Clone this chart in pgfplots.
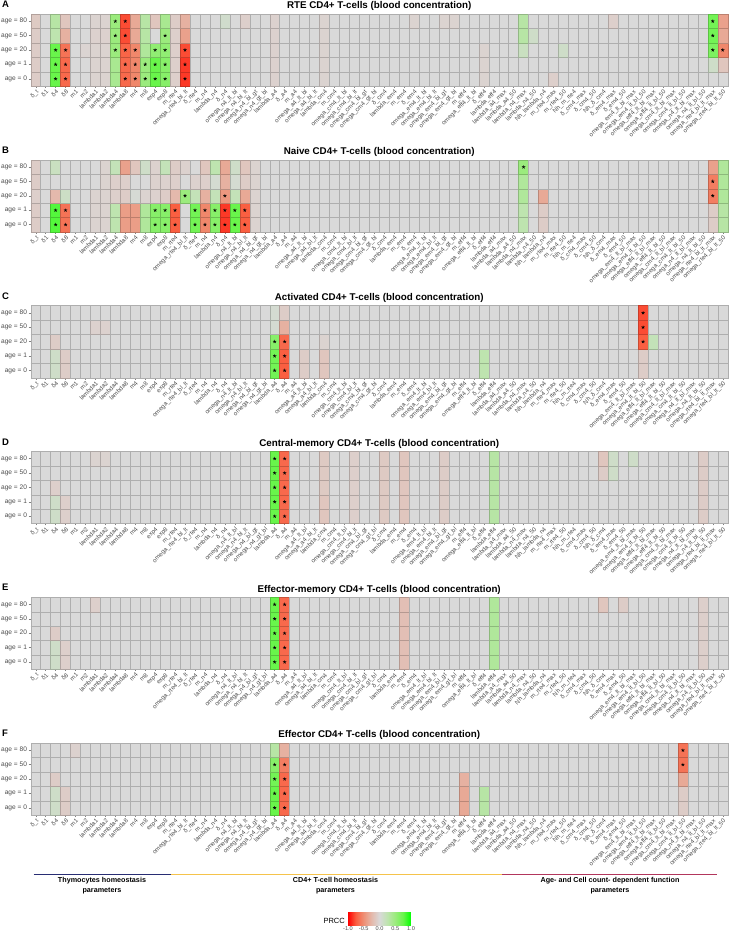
\documentclass[border=0pt]{standalone}
\usepackage{fontspec}
\setmainfont{Liberation Sans}
\usepackage{pgfplots}
\usepackage{pgfplotstable}
\pgfplotsset{compat=1.18}

\definecolor{grpA}{RGB}{40,45,115}
\definecolor{grpB}{RGB}{245,195,75}
\definecolor{grpC}{RGB}{178,54,92}

% one heat-map tile, 10 x 14.5 pt
\pgfdeclareplotmark{cell}{%
  \pgfpathrectangle{\pgfpoint{-5.05pt}{-7.3pt}}{\pgfpoint{10.1pt}{14.6pt}}%
  \pgfusepathqfillstroke}

\pgfplotsset{
  % red - grey - green diverging scale (perceptual steps)
  colormap={prcc}{rgb255(0cm)=(255,0,0); rgb255(1cm)=(250,95,65); rgb255(2cm)=(238,145,118);
    rgb255(3cm)=(228,185,172); rgb255(4cm)=(217,217,217); rgb255(5cm)=(190,228,175);
    rgb255(6cm)=(155,235,125); rgb255(7cm)=(105,245,75); rgb255(8cm)=(0,255,0)},
  paramlabels/.style={xticklabels={
    δ\_t, δ1, δ4, δ8, m1, m2, lambda1, lambda2, lambda4, lambda8,
    m4, m8, exp4, exp8, m\_rte4, omega\_rte4\_bl\_lt, δ\_rte4, m\_n4, lambda\_n4, δ\_n4,
    omega\_n4\_lt\_bl, omega\_n4\_bl\_lt, omega\_n4\_bl\_gt, omega\_n4\_gt\_bl, lambda\_a4, δ\_a4, m\_a4, omega\_a4\_lt\_bl, omega\_a4\_bl\_lt, lambda\_cm4,
    m\_cm4, omega\_cm4\_lt\_bl, omega\_cm4\_bl\_lt, omega\_cm4\_bl\_gt, omega\_cm4\_gt\_bl, δ\_cm4, lambda\_em4, m\_em4, δ\_em4, omega\_em4\_lt\_bl,
    omega\_em4\_bl\_lt, omega\_em4\_bl\_gt, omega\_em4\_gt\_bl, m\_eff4, omega\_eff4\_lt\_bl, δ\_eff4, lambda\_eff4, lambda\_a4\_max, lambda\_a4\_50, lambda\_n4\_max,
    lambda\_n4\_50, Nh\_lambda\_n4, m\_rte4\_max, m\_rte4\_50, Nh\_m\_rte4, δ\_cm4\_max, δ\_cm4\_50, Nh\_δ\_cm4, δ\_em4\_max, δ\_em4\_50,
    omega\_em4\_lt\_bl\_max, omega\_em4\_lt\_bl\_50, omega\_eff4\_lt\_bl\_max, omega\_eff4\_lt\_bl\_50, omega\_cm4\_lt\_bl\_max, omega\_cm4\_lt\_bl\_50, omega\_n4\_lt\_bl\_max, omega\_n4\_lt\_bl\_50, omega\_rte4\_bl\_lt\_max, omega\_rte4\_bl\_lt\_50}},
  heat/.style={
    scale only axis, width=697pt, height=72pt,
    xmin=0.5, xmax=70.5, ymin=-0.5, ymax=4.5, enlargelimits=false,
    xtick={1,...,70}, ytick={0,...,4}, paramlabels,
    yticklabels={age = 0, age = 1, age = 20, age = 50, age = 80},
    minor x tick num=1, minor y tick num=1,
    grid=minor, minor grid style={draw=black!45, line width=0.35pt},
    minor tick length=0pt, major tick length=2pt, tick align=outside, tick pos=left,
    tick style={draw=black!50, line width=0.35pt},
    axis line style={draw=black!50, line width=0.4pt},
    axis on top,
    colormap name=prcc, point meta min=-1, point meta max=1,
    xticklabel style={rotate=45, anchor=north east, inner sep=0.8pt,
      font=\fontsize{6.1}{6.5}\selectfont, text=black!70},
    yticklabel style={font=\fontsize{6.6}{7}\selectfont, text=black!70, inner sep=1.5pt},
    every axis title/.style={at={(0.5,1)}, anchor=base, yshift=5.2pt,
      font=\bfseries\fontsize{9.8}{10}\selectfont},
  },
  heatcell/.style={scatter, only marks, mark=cell, point meta=explicit, line width=0.2pt},
  sig/.style={only marks, mark=star, mark size=1.7pt, black, line width=0.6pt},
}

% draws the five age rows of one panel, with stars on the significant tiles
\newcommand{\heatmap}[1]{%
  \addplot[heatcell] table[x=i, y expr=0, meta=a0] {#1};
  \addplot[heatcell] table[x=i, y expr=1, meta=a1] {#1};
  \addplot[heatcell] table[x=i, y expr=2, meta=a20] {#1};
  \addplot[heatcell] table[x=i, y expr=3, meta=a50] {#1};
  \addplot[heatcell] table[x=i, y expr=4, meta=a80] {#1};
  \addplot[sig] table[x=i, y expr=0, restrict expr to domain={abs(\thisrow{a0})}{0.45:2}] {#1};
  \addplot[sig] table[x=i, y expr=1, restrict expr to domain={abs(\thisrow{a1})}{0.45:2}] {#1};
  \addplot[sig] table[x=i, y expr=2, restrict expr to domain={abs(\thisrow{a20})}{0.45:2}] {#1};
  \addplot[sig] table[x=i, y expr=3, restrict expr to domain={abs(\thisrow{a50})}{0.45:2}] {#1};
  \addplot[sig] table[x=i, y expr=4, restrict expr to domain={abs(\thisrow{a80})}{0.45:2}] {#1};
}

% PRCC per parameter (i) and age (0, 1, 20, 50, 80 years)
\pgfplotstableread{
i a0 a1 a20 a50 a80
1 -0.10 -0.10 -0.10 -0.10 -0.12
2 0 0 0 0 0
3 0.75 0.75 0.75 0.25 0.30
4 -0.70 -0.70 -0.65 -0.30 -0.15
5 0 0 0 0 0
6 0 0 -0.04 0 0
7 -0.05 -0.05 -0.05 -0.06 -0.05
8 -0.05 -0.05 -0.05 -0.06 -0.05
9 0.40 0.40 0.50 0.50 0.50
10 -0.70 -0.70 -0.72 -0.80 -0.80
11 -0.55 -0.55 -0.55 -0.35 -0.35
12 0.50 0.50 0.35 0.30 0.30
13 0.75 0.75 0.55 0 -0.15
14 0.60 0.60 0.55 0.50 0.40
15 -0.08 -0.08 -0.08 -0.08 -0.10
16 -0.85 -0.85 -0.80 -0.40 -0.30
17 0 0 0 0 0
18 0 0 0 0 0
19 0 0 0 0 0
20 0 0 0 0 0.08
21 0 0 0 0 0
22 0 0 0 0 -0.08
23 0 0 0 0 0
24 0 0 0 0 0
25 -0.06 -0.06 -0.06 -0.06 -0.06
26 0 0 0 0 0
27 0 0 0 0 0
28 0 0 0 0 0
29 0 0 0 0 0
30 -0.05 -0.05 -0.05 -0.05 -0.05
31 0 0 0 0 0
32 0 0 0 0 0
33 0 0 0 0 0
34 0 0 0 0 0
35 0 0 0 0 0
36 0 0 0 0 0
37 0 0 0 0 0
38 0 0 0 0 0
39 0 0 0 0 -0.05
40 0 0 0 0 0
41 0 0 0 0 0
42 0 0 0 0 -0.05
43 0 0 0 0 -0.05
44 0 0 0 0 0
45 0 0 0 0 0
46 -0.05 -0.05 -0.05 0 0
47 0 0 0 0 0
48 0 0 0 0 0
49 0 0 0 0 0
50 0 0 0.15 0.30 0.30
51 0 0 0 0.10 0
52 0 0 0 0 0
53 -0.08 0 0 0 0
54 0 0 0.10 0 0
55 0 0 0 0 0
56 0 0 0 0 0
57 0 0 0 0 0
58 0 0 0 0 0
59 0 0 0 0 -0.08
60 0 0 0 0 0
61 0 0 0 0 0
62 0 0 0 0 0
63 0 0 0 0 0
64 0 0 0 0 0
65 0 0 0 0 0
66 0 0 0 0 0
67 0 0 0 0 0
68 0 0 0 0 0
69 0 0.10 0.65 0.70 0.70
70 0 -0.15 -0.55 -0.35 -0.40
}\tabA

\pgfplotstableread{
i a0 a1 a20 a50 a80
1 -0.10 -0.10 -0.08 -0.10 -0.10
2 0 0 0 0 0
3 0.80 0.80 -0.25 0 0.15
4 -0.65 -0.65 0.12 0 0
5 0 0 0 0 0
6 0 0 0 0 0
7 -0.05 -0.05 -0.05 0 0
8 -0.05 -0.05 -0.05 -0.05 -0.05
9 0.25 0.25 -0.08 -0.08 0.20
10 -0.42 -0.42 -0.10 -0.08 -0.40
11 -0.42 -0.42 0.03 0 -0.15
12 0.35 0.35 -0.05 0 0.10
13 0.60 0.60 -0.06 -0.06 -0.06
14 0.60 0.60 -0.10 -0.06 0.20
15 -0.75 -0.75 -0.25 -0.08 -0.10
16 0 0 0.50 0 -0.06
17 0.70 0.70 0.20 -0.06 0
18 -0.55 -0.55 -0.30 -0.08 -0.15
19 0.60 0.60 0.20 0.05 0.25
20 -0.85 -0.85 -0.46 -0.30 -0.35
21 0.75 0.75 0.20 0.05 0.10
22 -0.75 -0.75 -0.35 -0.10 -0.15
23 -0.05 -0.05 -0.05 -0.05 -0.05
24 0 0 0 0 0
25 0 0 0 0 0
26 0 0 0 0 0
27 0 0 0 0 0
28 0 0 0 0 0
29 0 0 0 0 0
30 0 0 0 0 0
31 0 0 0 0 0
32 0 0 0 0 0
33 0 0 0 0 0
34 0 0 0 0 0
35 0 0 0 0 0
36 0 0 0 0 0
37 0 0 0 0 0
38 0 0 0 0 0
39 0 0 0 0 0
40 0 0 0 0 0
41 0 0 0 0 0
42 0 0 0 0 0
43 0 0 0 0 0
44 0 0 0 0 0
45 0 0 0 0 0
46 0 0 0 0 0
47 0 0 0 0 0
48 0 0 0 0 0
49 0 0 0 0 0
50 0.25 0.25 0.35 0.35 0.50
51 0 0 0 0 0
52 -0.10 -0.10 -0.35 0 0
53 0 0 0 0 0
54 0 0 0 0 0
55 0 0 0 0 0
56 0 0 0 0 0
57 0 0 0 0 0
58 0 0 0 0 0
59 0 0 0 0 0
60 0 0 0 0 0
61 0 0 0 0 0
62 0 0 0 0 0
63 0 0 0 0 0
64 0 0 0 0 0
65 0 0 0 0 0
66 0 0 0 0 0
67 0 0 0 0 0
68 0 0 0 0 0
69 -0.10 -0.10 -0.60 -0.60 -0.40
70 0.30 0.30 0.35 0.35 0.35
}\tabB

\pgfplotstableread{
i a0 a1 a20 a50 a80
1 0 0 0 0 0
2 0 0 0 0 0
3 0.10 0.10 -0.10 0 0
4 -0.10 -0.10 0 0 0
5 0 0 0 0 0
6 0 0 0 0 0
7 0 0 0 -0.06 0
8 0 0 0 -0.06 0
9 0 0 0 0 0
10 0 0 0 0 0
11 0 0 0 0 0
12 0 0 0 0 0
13 0 0 0 0 0
14 0 0 0 0 0
15 0 0 0 0 0
16 0 0 0 0 0
17 0 0 0 0 0
18 0 0 0 0 0
19 0 0 0 0 0
20 0 0 0 0 0
21 0 0 0 0 0
22 0 0 0 0 0
23 0 0 0 0 0
24 0 0 0 0 0
25 0.70 0.70 0.60 0.05 0.05
26 -0.75 -0.75 -0.70 -0.30 -0.10
27 0 0 0 0 0
28 -0.10 -0.10 0 0 0
29 0 0 0 0 0
30 -0.15 -0.15 -0.05 0 0
31 0 0 0 0 0
32 0 0 0 0 0
33 0 0 0 0 0
34 0 0 0 0 0
35 0 0 0 0 0
36 0 0 0 0 0
37 0 0 0 0 0
38 0 0 0 0 0
39 0 0 0 0 0
40 0 0 0 0 0
41 0 0 0 0 0
42 0 0 0 0 0
43 0 0 0 0 0
44 0 0 0 0 0
45 0 0 0 0 0
46 0.25 0.25 0 0 0
47 0 0 0 0 0
48 0 0 0 0 0
49 0 0 0 0 0
50 0 0 0 0 0
51 0 0 0 0 0
52 0 0 0 0 0
53 0 0 0 0 0
54 0 0 0 0 0
55 0 0 0 0 0
56 0 0 0 0 0
57 0 0 0 0 0
58 0 0 0 0 0
59 0 0 0 0 0
60 0 0 0 0 0
61 0 0 0 0 0
62 -0.10 -0.10 -0.75 -0.80 -0.80
63 0 0 0.20 0 0
64 0 0 0 0 0
65 0 0 0 0 0
66 0 0 0 0 0
67 0 0 0 0 0
68 0 0 0 0 0
69 0 0 0 0 0
70 0 0 0 0 0
}\tabC

\pgfplotstableread{
i a0 a1 a20 a50 a80
1 0 0 0 0 0
2 0 0 0 0 0
3 0.10 0.10 -0.08 0 0
4 -0.08 -0.08 0 0 0
5 0 0 0 0 0
6 0 0 0 0 0
7 0 0 0 0 -0.05
8 0 0 0 0 -0.05
9 0 0 0 0 0
10 0 0 0 0 0
11 0 0 0 0 0
12 0 0 0 0 0
13 0 0 0 0 0
14 0 0 0 0 0
15 0 0 0 0 0
16 0 0 0 0 0
17 0 0 0 0 0
18 0 0 0 0 0
19 0 0 0 0 0
20 0 0 0 0 0
21 0 0 0 0 0
22 0 0 0 0 0
23 0 0 0 0 0
24 0 0 0 0 0
25 0.75 0.75 0.75 0.75 0.75
26 -0.70 -0.70 -0.70 -0.70 -0.70
27 0 0 0 0 0
28 0 0 0 0 0
29 0 0 0 0 0
30 -0.15 -0.15 -0.12 -0.12 -0.12
31 0 0 0 0 0
32 0 0 0 0 0
33 -0.08 -0.08 -0.08 -0.08 -0.08
34 0 0 0 0 0
35 0 0 0 0 0
36 -0.12 -0.12 -0.12 -0.12 -0.12
37 0 0 0 0 0
38 -0.15 -0.15 -0.15 -0.15 -0.15
39 0 0 0 0 0
40 0 0 0 0 0
41 0 0 0 0 0
42 -0.10 -0.10 -0.10 -0.10 -0.10
43 0 0 0 0 0
44 0 0 0 0 0
45 0 0 0 0 0
46 0 0 0 0 0
47 0.30 0.30 0.30 0.30 0.30
48 0 0 0 0 0
49 0 0 0 0 0
50 0 0 0 0 0
51 0 0 0 0 0
52 0 0 0 0 0
53 0 0 0 0 0
54 0 0 0 0 0
55 0 0 0 0 0
56 0 0 0 0 0
57 0 0 0 0 0
58 0 0 0 -0.10 -0.15
59 0 0 0 0.10 0.10
60 0 0 0 0 0
61 0 0 0 0 0.10
62 0 0 0 0 0
63 0 0 0 0 0
64 0 0 0 0 0
65 0 0 0 0 0
66 0 0 0 0 0
67 0 0 0 0 0
68 -0.10 -0.10 -0.10 -0.10 -0.10
69 0 0 0 0 0
70 0 0 0 0 0
}\tabD

\pgfplotstableread{
i a0 a1 a20 a50 a80
1 0 0 0 0 0
2 0 0 0 0 0
3 0.10 0.10 -0.10 0 0
4 -0.08 -0.08 0 0 0
5 0 0 0 0 0
6 0 0 0 0 0
7 0 0 0 0 -0.08
8 0 0 0 0 0
9 0 0 0 0 0
10 0 0 0 0 0
11 0 0 0 0 0
12 0 0 0 0 0
13 0 0 0 0 0
14 0 0 0 0 0
15 0 0 0 0 0
16 0 0 0 0 0
17 0 0 0 0 0
18 0 0 0 0 0
19 0 0 0 0 0
20 0 0 0 0 0
21 0 0 0 0 0
22 0 0 0 0 0
23 0 0 0 0 0
24 0 0 0 0 0
25 0.75 0.75 0.75 0.75 0.75
26 -0.70 -0.70 -0.70 -0.70 -0.70
27 0 0 0 0 0
28 0 0 0 0 0
29 0 0 0 0 0
30 0 0 0 0 0
31 0 0 0 0 0
32 0 0 0 0 0
33 0 0 0 0 0
34 0 0 0 0 0
35 0 0 0 0 0
36 0 0 0 0 0
37 0 0 0 0 0
38 -0.20 -0.20 -0.20 -0.20 -0.20
39 0 0 0 0 0
40 0 0 0 0 0
41 0 0 0 0 0
42 0 0 0 0 0
43 0 0 0 0 0
44 0 0 0 0 0
45 0 0 0 0 0
46 0 0 0 0 0
47 0.35 0.35 0.35 0.35 0.35
48 0 0 0 0 0
49 0 0 0 0 0
50 0 0 0 0 0
51 0 0 0 0 0
52 0 0 0 0 0
53 0 0 0 0 0
54 0 0 0 0 0
55 0 0 0 0 0
56 0 0 0 0 0
57 0 0 0 0 0
58 0 0 0 0 -0.15
59 0 0 0 0 0
60 0 0 0 0 -0.10
61 0 0 0 0 0
62 0 0 0 0 0
63 0 0 0 0 0
64 0 0 0 0 0
65 0 0 0 0 0
66 0 0 0 0 0
67 0 0 0 0 0
68 -0.08 -0.08 -0.08 -0.08 -0.08
69 0 0 0 0 0
70 0 0 0 0 0
}\tabE

\pgfplotstableread{
i a0 a1 a20 a50 a80
1 0 0 0 0 0
2 0 0 0 0 0
3 0.10 0.10 -0.10 0 0
4 -0.10 -0.10 0 0 0
5 0 0 0 0 -0.06
6 0 0 0 0 0
7 0 0 0 0 0
8 0 0 0 0 0
9 0 0 0 0 0
10 0 0 0 0 0
11 0 0 0 0 0
12 0 0 0 0 0
13 0 0 0 0 0
14 0 0 0 0 0
15 0 0 0 0 0
16 0 0 0 0 0
17 0 0 0 0 0
18 0 0 0 0 0
19 0 0 0 0 0
20 0 0 0 0 0
21 0 0 0 0 0
22 0 0 0 0 0
23 0 0 0 0 0
24 0 0 0 0 0
25 0.75 0.75 0.70 0.60 0.30
26 -0.70 -0.70 -0.70 -0.60 -0.30
27 0 0 0 0 0
28 0 0 0 0 0
29 0 0 0 0 0
30 0 0 0 0 0
31 0 0 0 0 0
32 0 0 0 0 0
33 0 0 0 0 0
34 0 0 0 0 0
35 0 0 0 0 0
36 0 0 0 0 0
37 0 0 0 0 0
38 0 0 0 0 0
39 0 0 0 0 0
40 0 0 0 0 0
41 0 0 0 0 0
42 0 0 0 0 0
43 0 0 0 0 0
44 -0.35 -0.35 -0.30 0 0
45 0 0 0 0 0
46 0.30 0.30 0 0 0
47 0 0 0 0 0
48 0 0 0 0 0
49 0 0 0 0 0
50 0 0 0 0 0
51 0 0 0 0 0
52 0 0 0 0 0
53 0 0 0 0 0
54 0 0 0 0 0
55 0 0 0 0 0
56 0 0 0 0 0
57 0 0 0 0 0
58 0 0 0 0 0
59 0 0 0 0 0
60 0 0 0 0 0
61 0 0 0 0 0
62 0 0 0 0 0
63 0 0 0 0 0
64 0 0 0 0 0
65 0 0 0 0 0
66 -0.10 -0.10 -0.35 -0.65 -0.65
67 0 0 0 0 0
68 0 0 0 0 0
69 0 0 0 0 0
70 0 0 0 0 0
}\tabF

\begin{document}
\begin{tikzpicture}
\path[use as bounding box] (0pt,0pt) rectangle (729pt,-935pt);

\begin{axis}[heat, at={(30.7pt,-14pt)}, anchor=north west,
  title={RTE CD4+ T-cells (blood concentration)}]
\heatmap{\tabA}
\end{axis}
\begin{axis}[heat, at={(30.7pt,-159.8pt)}, anchor=north west,
  title={Naive CD4+ T-cells (blood concentration)}]
\heatmap{\tabB}
\end{axis}
\begin{axis}[heat, at={(30.7pt,-305.6pt)}, anchor=north west,
  title={Activated CD4+ T-cells (blood concentration)}]
\heatmap{\tabC}
\end{axis}
\begin{axis}[heat, at={(30.7pt,-451.4pt)}, anchor=north west,
  title={Central-memory CD4+ T-cells (blood concentration)}]
\heatmap{\tabD}
\end{axis}
\begin{axis}[heat, at={(30.7pt,-597.2pt)}, anchor=north west,
  title={Effector-memory CD4+ T-cells (blood concentration)}]
\heatmap{\tabE}
\end{axis}
\begin{axis}[heat, at={(30.7pt,-743pt)}, anchor=north west,
  title={Effector CD4+ T-cells (blood concentration)},
  colorbar horizontal,
  colorbar style={at={(0.5004,-1.357)}, anchor=north, scale only axis,
    width=63pt, height=12.3pt, xtick={-1,-0.5,0,0.5,1}, ytick=\empty,
    major tick length=0pt, axis line style={draw=none},
    xticklabel style={font=\fontsize{5.6}{6}\selectfont, text=black!70, inner sep=1.2pt,
      /pgf/number format/fixed, /pgf/number format/fixed zerofill,
      /pgf/number format/precision=1, /pgf/number format/assume math mode=true}}]
\heatmap{\tabF}
\end{axis}

% panel letters
\foreach \L/\y in {A/4.5, B/150.3, C/296.1, D/441.9, E/587.7, F/733.5}
  \node[font=\bfseries\fontsize{9.5}{10}\selectfont, anchor=west, inner sep=0pt] at (2pt,-\y pt) {\L};

% parameter groups
\draw[grpA, line width=1.1pt] (33.6pt,-874.7pt) -- (170.6pt,-874.7pt);
\draw[grpB, line width=1.1pt] (170.6pt,-874.7pt) -- (502pt,-874.7pt);
\draw[grpC, line width=1.1pt] (502pt,-874.7pt) -- (717pt,-874.7pt);
\begin{scope}[every node/.style={font=\bfseries\fontsize{7.2}{10}\selectfont, align=center, anchor=north, inner sep=0pt}]
\node at (102pt,-877.5pt) {Thymocytes homeostasis\\parameters};
\node at (335.5pt,-877.5pt) {CD4+ T-cell homeostasis\\parameters};
\node at (610pt,-877.5pt) {Age- and Cell count- dependent function\\parameters};
\end{scope}
\node[font=\fontsize{7.5}{8}\selectfont, anchor=east, inner sep=0pt] at (345pt,-921pt) {PRCC};
\end{tikzpicture}
\end{document}
